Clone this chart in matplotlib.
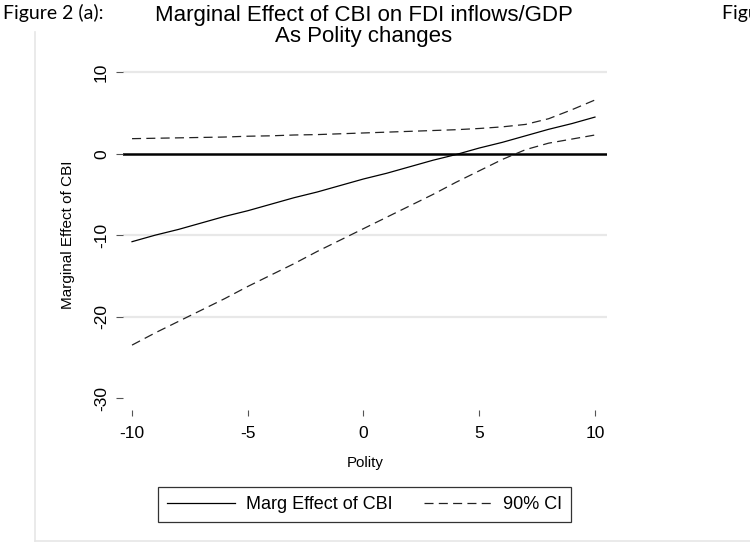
import matplotlib
matplotlib.use("Agg")
import matplotlib.pyplot as plt
from matplotlib.lines import Line2D

plt.rcParams['font.family'] = ['Liberation Sans', 'DejaVu Sans']
plt.rcParams['lines.scale_dashes'] = False

# ---- data ----
polity = [-10, -9, -8, -7, -6, -5, -4, -3, -2, -1, 0, 1, 2, 3, 4, 5, 6, 7, 8, 9, 10]
marg_effect = [-10.8, -10.0, -9.3, -8.5, -7.7, -7.0, -6.2, -5.4, -4.7, -3.9, -3.1,
               -2.4, -1.6, -0.8, -0.1, 0.7, 1.4, 2.2, 3.0, 3.7, 4.5]
ci_upper = [1.85, 1.9, 1.95, 2.0, 2.05, 2.15, 2.2, 2.3, 2.35, 2.45, 2.55,
            2.65, 2.75, 2.85, 2.95, 3.1, 3.3, 3.6, 4.3, 5.4, 6.6]
ci_lower = [-23.5, -22.0, -20.6, -19.2, -17.8, -16.3, -14.9, -13.5, -12.0, -10.6, -9.2,
            -7.8, -6.4, -5.0, -3.5, -2.1, -0.7, 0.5, 1.3, 1.8, 2.3]
x_ticks = [-10, -5, 0, 5, 10]
y_ticks = [-30, -20, -10, 0, 10]
y_grid = [-20, -10, 10]

title = "Marginal Effect of CBI on FDI inflows/GDP\nAs Polity changes"
xlabel = "Polity"
ylabel = "Marginal Effect of CBI"
legend_labels = ["Marg Effect of CBI", "90% CI"]

W, H = 750, 543
fig = plt.figure(figsize=(W / 100, H / 100), dpi=100)

def fx(px):
    return px / W

def fy(py):
    return 1 - py / H

# axes box in pixels
L, R, T, B = 123, 607, 60, 410
ax = fig.add_axes([fx(L), fy(B), fx(R) - fx(L), fy(T) - fy(B)])
ax.set_xlim(-10.39, 10.52)
ax.set_ylim(-31.47, 11.51)
for s in ax.spines.values():
    s.set_visible(False)

for g in y_grid:
    ax.axhline(g, color='#e8e8e8', lw=1.6, zorder=0)
ax.axhline(0, color='black', lw=1.8, zorder=1)

dash = (0, (6.5, 3.8))
ax.plot(polity, marg_effect, color='black', lw=0.9, zorder=3)
ax.plot(polity, ci_upper, color='#222222', lw=0.9, linestyle=dash, zorder=3)
ax.plot(polity, ci_lower, color='#222222', lw=0.9, linestyle=dash, zorder=3)

ax.set_xticks(x_ticks)
ax.set_xticklabels([str(v) for v in x_ticks])
ax.set_yticks(y_ticks)
ax.set_yticklabels([str(v) for v in y_ticks], rotation=90, va='center')
ax.tick_params(axis='x', direction='out', length=4.3, width=0.8, color='#555555',
               pad=7, labelsize=12.5)
ax.tick_params(axis='y', direction='out', length=5.0, width=0.8, color='#555555',
               pad=5, labelsize=12.5)

ax.set_xlabel(xlabel, fontsize=10.8, labelpad=11)
ax.set_ylabel(ylabel, fontsize=11, labelpad=13.5)

fig.text(fx(364), fy(26), title, ha='center', va='center', fontsize=16,
         linespacing=0.95)

fig.text(fx(3), fy(13), "Figure 2 (a):", ha='left', va='center', fontsize=14,
         family=['Lato', 'DejaVu Sans'])
fig.text(fx(722), fy(13), "Figure 2 (b):", ha='left', va='center', fontsize=14,
         family=['Lato', 'DejaVu Sans'])

# outer light frame of graph region
fig.add_artist(Line2D([fx(35), fx(35)], [fy(32), fy(541)], color='#e6e6e6', lw=1.2))
fig.add_artist(Line2D([fx(35), 1.0], [fy(541), fy(541)], color='#e6e6e6', lw=1.2))

handles = [Line2D([], [], color='black', lw=0.9),
           Line2D([], [], color='#222222', lw=0.9, linestyle=dash)]
leg = fig.legend(handles, legend_labels, loc='center',
                 bbox_to_anchor=(fx(364.5), fy(504.5)), ncol=2, fontsize=13,
                 frameon=True, fancybox=False, handlelength=3.8,
                 handletextpad=0.6, columnspacing=1.7, borderpad=0.5,
                 edgecolor='black')
leg.get_frame().set_linewidth(0.9)

fig.savefig("out.png", dpi=100)
